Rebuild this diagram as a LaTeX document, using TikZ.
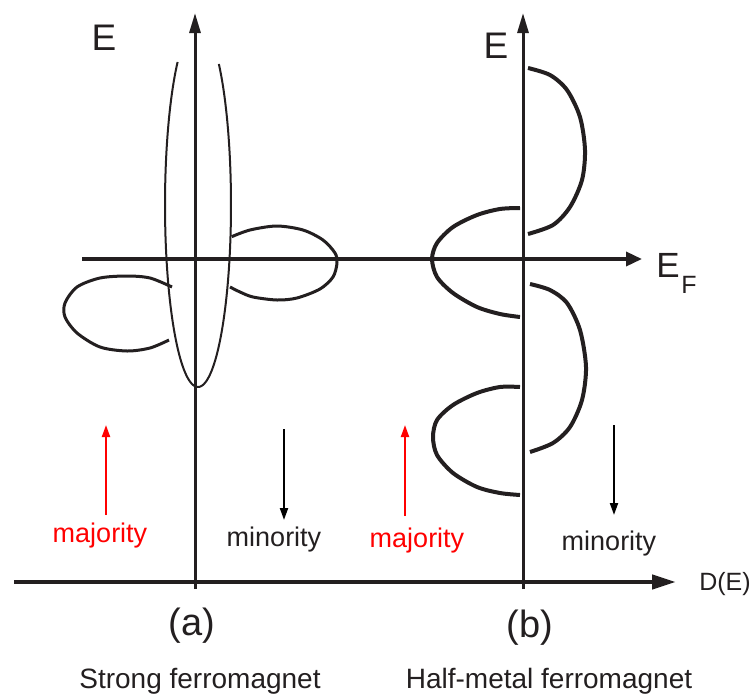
\documentclass[tikz,border=0pt]{standalone}
\usepackage{fontspec}
\setmainfont{Liberation Sans}
\usetikzlibrary{arrows.meta}
\definecolor{ink}{RGB}{35,31,32}
\definecolor{spinred}{RGB}{255,0,0}
\begin{document}
\begin{tikzpicture}[x=1pt,y=-1pt,line join=round,line cap=butt,
  axis/.style={draw=ink,line width=3pt},
  lobe/.style={draw=ink,line width=3pt},
  thicklobe/.style={draw=ink,line width=4pt},
  thinlobe/.style={draw=ink,line width=2pt},
  lbl/.style={inner sep=0pt,anchor=base,text=ink},
  spinarrow/.style={line width=2pt,-{Triangle[length=12pt,width=8pt]}},
]
\useasboundingbox (0,0) rectangle (753,694);

% axes
\coordinate (ya0) at (195,589); \coordinate (ya1) at (195,13);
\coordinate (yb0) at (523,589); \coordinate (yb1) at (523,13);
\coordinate (ef0) at (82,259);  \coordinate (ef1) at (642,259);
\coordinate (dx0) at (14,582);  \coordinate (dx1) at (676,582);
\draw[axis,-{Triangle[length=20pt,width=11pt]}] (ya0) -- (ya1);
\draw[axis,-{Triangle[length=20pt,width=11pt]}] (yb0) -- (yb1);
\draw[axis,line width=3.5pt,-{Triangle[length=16pt,width=14pt]}] (ef0) -- (ef1);
\draw[axis,line width=4.5pt,-{Triangle[length=24pt,width=14pt]}] (dx0) -- (dx1);

% (a) strong ferromagnet
\draw[thinlobe] plot[domain=231.8:-50.8,samples=120] ({198+33*cos(\x)},{205+182*sin(\x)});
\draw[lobe] plot[smooth] coordinates {(231.7,236.7) (250,230) (276.7,226) (303,230) (323,240) (335,253) (337,263) (333,277) (320,289) (297,298) (277,300) (253,297) (240,292) (230,287)};
\draw[lobe] plot[smooth] coordinates {(172,287) (150,278) (127,276) (100,278) (77,287) (65,303) (65,317) (77,333) (100,347) (127,351) (150,348) (169,340)};

% (b) half-metal ferromagnet
\draw[thicklobe] plot[smooth] coordinates {(528,68) (550,75) (567,90) (580,117) (585,150) (582,180) (570,207) (553,225) (528,234)};
\draw[thicklobe] plot[smooth] coordinates {(520,208) (500,209) (477,215) (453,227) (437,243) (432,259) (437,277) (453,293) (477,307) (500,314) (520,317)};
\draw[thicklobe] plot[smooth] coordinates {(530,284) (550,290) (567,303) (580,330) (586,367) (582,400) (570,427) (553,443) (530,452)};
\draw[thicklobe] plot[smooth] coordinates {(520,387) (500,387) (477,393) (453,405) (437,420) (433,437) (437,455) (453,473) (477,487) (500,493) (520,495)};

% spin arrows
\coordinate (ra0) at (106,515); \coordinate (ra1) at (106,425);
\coordinate (ba0) at (284,429); \coordinate (ba1) at (284,520);
\coordinate (rb0) at (405,516); \coordinate (rb1) at (405,425);
\coordinate (bb0) at (614,425); \coordinate (bb1) at (614,515);
\draw[spinarrow,draw=spinred,fill=spinred] (ra0) -- (ra1);
\draw[spinarrow,draw=black,fill=black] (ba0) -- (ba1);
\draw[spinarrow,draw=spinred,fill=spinred] (rb0) -- (rb1);
\draw[spinarrow,draw=black,fill=black] (bb0) -- (bb1);

% labels
\node[lbl,font=\fontsize{37}{40}\selectfont] (Ea) at (104,50) {E};
\node[lbl,font=\fontsize{37}{40}\selectfont] (Eb) at (496,58) {E};
\node[lbl,font=\fontsize{35}{38}\selectfont] (EF) at (668,277) {E};
\node[lbl,font=\fontsize{25}{28}\selectfont] (EFsub) at (689,293) {F};
\node[lbl,font=\fontsize{25}{28}\selectfont] (DE) at (725,590) {D(E)};
\node[lbl,font=\fontsize{38}{42}\selectfont] (la) at (192,635) {(a)};
\node[lbl,font=\fontsize{38}{42}\selectfont] (lb) at (530,637) {(b)};
\node[lbl,font=\fontsize{28}{32}\selectfont] (sf) at (200,688) {Strong ferromagnet};
\node[lbl,font=\fontsize{28}{32}\selectfont] (hm) at (549,688) {Half-metal ferromagnet};
\node[lbl,font=\fontsize{27}{30}\selectfont,text=spinred] (maja) at (100,542) {majority};
\node[lbl,font=\fontsize{27}{30}\selectfont] (mina) at (274,546) {minority};
\node[lbl,font=\fontsize{27}{30}\selectfont,text=spinred] (majb) at (417,547) {majority};
\node[lbl,font=\fontsize{27}{30}\selectfont] (minb) at (609,550) {minority};
\end{tikzpicture}
\end{document}
